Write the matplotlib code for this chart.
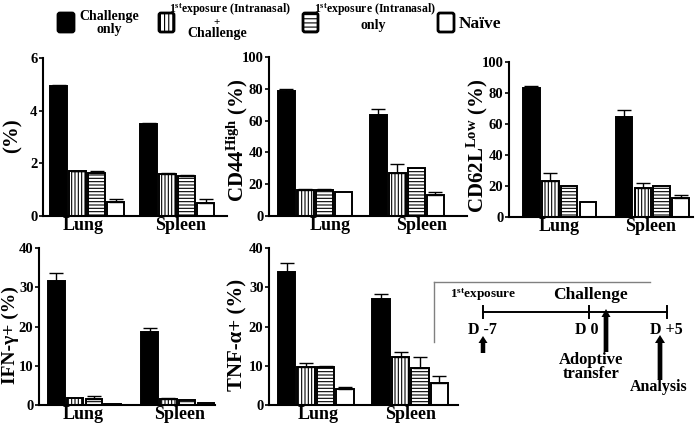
import matplotlib
matplotlib.use("Agg")
import matplotlib.pyplot as plt
from matplotlib.patches import FancyBboxPatch, FancyArrow
from matplotlib.lines import Line2D

plt.rcParams['font.family'] = ['Liberation Serif', 'DejaVu Serif']
plt.rcParams['font.weight'] = 'bold'
plt.rcParams['mathtext.fontset'] = 'custom'
plt.rcParams['mathtext.rm'] = 'Liberation Serif:bold'
plt.rcParams['mathtext.bf'] = 'Liberation Serif:bold'
plt.rcParams['mathtext.it'] = 'Liberation Serif:bold:italic'
plt.rcParams['hatch.linewidth'] = 0.8

# ---------------- data ----------------
groups = ['Lung', 'Spleen']
series = ['Challenge only', '1st exposure (Intranasal) + Challenge',
          '1st exposure (Intranasal) only', 'Naïve']
hatches = ['', '|||||', '-----', '']
faces = ['black', 'white', 'white', 'white']

# panel 1: (%)
p1_lung = [4.95, 1.70, 1.65, 0.55]
p1_lung_err = [0.03, 0.02, 0.06, 0.08]
p1_spleen = [3.50, 1.58, 1.52, 0.50]
p1_spleen_err = [0.03, 0.07, 0.05, 0.13]

# panel 2: CD44 High (%)
p2_lung = [78.5, 16.5, 16.2, 15.0]
p2_lung_err = [1.5, 0.5, 0.7, 0.0]
p2_spleen = [63.5, 27.0, 30.0, 13.0]
p2_spleen_err = [3.5, 6.0, 0.0, 2.0]

# panel 3: CD62L Low (%)
p3_lung = [83.5, 23.0, 20.0, 10.0]
p3_lung_err = [0.8, 5.5, 0.0, 0.0]
p3_spleen = [64.5, 19.0, 20.0, 12.0]
p3_spleen_err = [4.5, 3.0, 0.0, 2.0]

# panel 4: IFN-gamma+ (%)
p4_lung = [31.7, 1.7, 1.6, 0.3]
p4_lung_err = [2.0, 0.0, 0.6, 0.0]
p4_spleen = [18.5, 1.5, 1.3, 0.6]
p4_spleen_err = [1.0, 0.2, 0.0, 0.0]

# panel 5: TNF-alpha+ (%)
p5_lung = [34.0, 9.6, 9.8, 4.2]
p5_lung_err = [2.3, 1.2, 0.2, 0.3]
p5_spleen = [27.0, 12.3, 9.5, 5.5]
p5_spleen_err = [1.2, 1.3, 2.7, 2.0]

ylabels = ['(%)', 'CD44$^{\\mathrm{High}}$ (%)', 'CD62L$^{\\mathrm{Low}}$ (%)',
           'IFN-γ+ (%)', 'TNF-α+ (%)']
yticks_list = [[0, 2, 4, 6], [0, 20, 40, 60, 80, 100], [0, 20, 40, 60, 80, 100],
               [0, 10, 20, 30, 40], [0, 10, 20, 30, 40]]

# ---------------- layout ----------------
W, H = 700, 429
fig = plt.figure(figsize=(W / 100, H / 100), dpi=100)

def add_ax(l, r, t, b):
    return fig.add_axes([l / W, 1 - b / H, (r - l) / W, (b - t) / H])

panels = [
    dict(box=(43, 227, 58, 216), lung=p1_lung, le=p1_lung_err, spl=p1_spleen, se=p1_spleen_err,
         off=4.74, xlim=(-0.82, 8.87), lab=(1.3, 6.4), ylab=(13, 136), yfs=15),
    dict(box=(269, 467, 57, 216), lung=p2_lung, le=p2_lung_err, spl=p2_spleen, se=p2_spleen_err,
         off=4.84, xlim=(-0.92, 9.5), lab=(2.3, 7.1), ylab=(237, 140), yfs=15),
    dict(box=(509, 693, 62, 217), lung=p3_lung, le=p3_lung_err, spl=p3_spleen, se=p3_spleen_err,
         off=4.9, xlim=(-1.18, 8.55), lab=(1.45, 6.3), ylab=(477, 146), yfs=15),
    dict(box=(39, 215, 248, 405), lung=p4_lung, le=p4_lung_err, spl=p4_spleen, se=p4_spleen_err,
         off=4.97, xlim=(-0.92, 8.45), lab=(1.45, 6.55), ylab=(10, 335), yfs=14),
    dict(box=(269, 458, 248, 405), lung=p5_lung, le=p5_lung_err, spl=p5_spleen, se=p5_spleen_err,
         off=4.85, xlim=(-0.9, 8.8), lab=(1.62, 6.38), ylab=(237, 335), yfs=15),
]

for k, p in enumerate(panels):
    ax = add_ax(*p['box'])
    for i in range(4):
        for x, v, e in ((i, p['lung'][i], p['le'][i]), (p['off'] + i, p['spl'][i], p['se'][i])):
            ax.bar(x, v, width=0.88, color=faces[i], edgecolor='black', linewidth=1.4,
                   hatch=hatches[i], zorder=2)
            if e > 0:
                ax.errorbar(x, v, yerr=[[0], [e]], fmt='none', ecolor='black',
                            elinewidth=1.0, capsize=5, capthick=1.0, zorder=3)
    yt = yticks_list[k]
    ax.set_ylim(yt[0], yt[-1])
    ax.set_yticks(yt)
    ax.set_xlim(*p['xlim'])
    ax.set_xticks(list(p['lab']))
    ax.set_xticklabels(groups, fontsize=13, fontweight='bold')
    ax.tick_params(axis='x', length=0, pad=1)
    ax.tick_params(axis='y', direction='out', length=3, width=1.2, pad=1, labelsize=10.5)
    for t in ax.get_yticklabels():
        t.set_fontweight('bold')
    for s in ('top', 'right'):
        ax.spines[s].set_visible(False)
    for s in ('left', 'bottom'):
        ax.spines[s].set_linewidth(1.5)
    ax.patch.set_alpha(0)
    fig.text(p['ylab'][0] / W, 1 - p['ylab'][1] / H, ylabels[k], rotation=90,
             ha='center', va='center', fontsize=p['yfs'], fontweight='bold')

# ---------------- legend (figure coordinates in px) ----------------
def fx(x):
    return x / W

def fy(y):
    return 1 - y / H

leg_boxes = [(58, 74), (159, 174), (303, 318), (438, 454)]
for i, (x0, x1) in enumerate(leg_boxes):
    r = FancyBboxPatch((x0 / 100, (H - 32) / 100), (x1 - x0) / 100, 19 / 100,
                       boxstyle='round,pad=0,rounding_size=0.02',
                       transform=fig.dpi_scale_trans,
                       facecolor=faces[i], edgecolor='black', linewidth=2.0,
                       hatch=hatches[i][:4])
    fig.add_artist(r)

fig.text(fx(109), fy(23), 'Challenge\nonly', ha='center', va='center', fontsize=10,
         fontweight='bold', linespacing=0.95)
fig.text(fx(230), fy(10), '1$^{\\mathrm{st}}$exposure (Intranasal)', ha='center', va='center',
         fontsize=8.5, fontweight='bold')
fig.text(fx(217), fy(22), '+', ha='center', va='center', fontsize=8, fontweight='bold')
fig.text(fx(217), fy(33), 'Challenge', ha='center', va='center', fontsize=10, fontweight='bold')
fig.text(fx(375), fy(10), '1$^{\\mathrm{st}}$exposure (Intranasal)', ha='center', va='center',
         fontsize=8.5, fontweight='bold')
fig.text(fx(373), fy(26), 'only', ha='center', va='center', fontsize=10, fontweight='bold')
fig.text(fx(480), fy(24), 'Naïve', ha='center', va='center', fontsize=12.5, fontweight='bold')

# ---------------- timeline schematic ----------------
gray = '#808080'
fig.add_artist(Line2D([fx(434), fx(650)], [fy(282), fy(282)], transform=fig.transFigure,
                      color=gray, linewidth=1.0))
fig.add_artist(Line2D([fx(434), fx(434)], [fy(282), fy(342)], transform=fig.transFigure,
                      color=gray, linewidth=1.0))
fig.add_artist(Line2D([fx(483), fx(667)], [fy(312), fy(312)], transform=fig.transFigure,
                      color='black', linewidth=1.4))
for xt in (483, 589, 667):
    fig.add_artist(Line2D([fx(xt), fx(xt)], [fy(306), fy(318)], transform=fig.transFigure,
                          color='black', linewidth=1.4))

fig.text(fx(483), fy(295), '1$^{\\mathrm{st}}$exposure', ha='center', va='center',
         fontsize=9.5, fontweight='bold')
fig.text(fx(590), fy(295), 'Challenge', ha='center', va='center', fontsize=12.5,
         fontweight='bold')
fig.text(fx(482), fy(330), 'D -7', ha='center', va='center', fontsize=11.5, fontweight='bold')
fig.text(fx(587), fy(330), 'D 0', ha='center', va='center', fontsize=11.5, fontweight='bold')
fig.text(fx(666), fy(330), 'D +5', ha='center', va='center', fontsize=11.5, fontweight='bold')
fig.text(fx(591), fy(367), 'Adoptive\ntransfer', ha='center', va='center', fontsize=12,
         fontweight='bold', linespacing=0.8)
fig.text(fx(659), fy(387), 'Analysis', ha='center', va='center', fontsize=11.5,
         fontweight='bold')

def arrow(xp, y_tail, y_tip, shaft, head_w, head_l):
    a = FancyArrow(xp / 100, (H - y_tail) / 100, 0, (y_tail - y_tip) / 100,
                   width=shaft / 100, head_width=head_w / 100, head_length=head_l / 100,
                   length_includes_head=True, transform=fig.dpi_scale_trans,
                   facecolor='black', edgecolor='black', linewidth=0)
    fig.add_artist(a)

arrow(483, 353, 336, 4.5, 9, 7)
arrow(606, 352, 309, 4.7, 9, 8)
arrow(660, 380, 335, 4.7, 10, 8)

fig.savefig('out.png', dpi=100)
